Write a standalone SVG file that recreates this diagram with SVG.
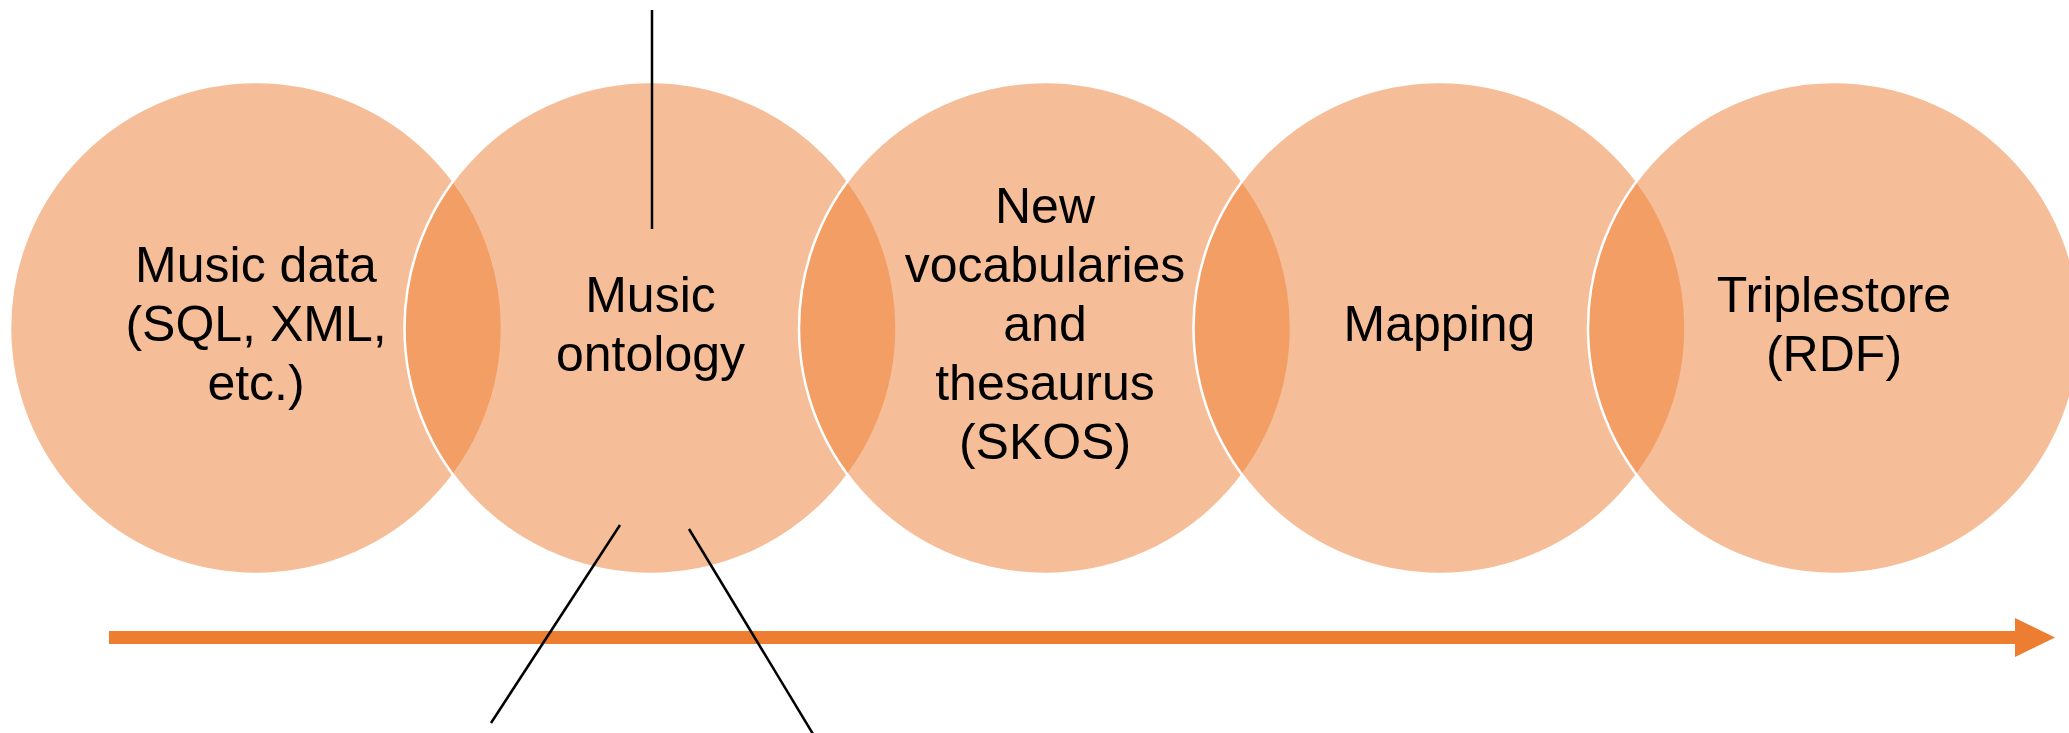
<svg xmlns="http://www.w3.org/2000/svg" width="2069" height="733" viewBox="0 0 2069 733">
  <style>
    .c { fill: #ED7D31; fill-opacity: 0.5; stroke: #FFFFFF; stroke-width: 2.5; }
    .t { font-family: "Liberation Sans", Arial, sans-serif; font-size: 50px; fill: #000000; text-anchor: middle; }
    .ln { stroke: #000000; stroke-width: 2.5; fill: none; }
    .bar { fill: #ED7D31; }
  </style>
  <rect width="2069" height="733" fill="#FFFFFF"/>
  <g id="node-music-data">
    <circle class="c" cx="256" cy="328" r="246"/>
    <text class="t" x="256" y="282">Music data</text>
    <text class="t" x="256" y="341">(SQL, XML,</text>
    <text class="t" x="256" y="400">etc.)</text>
  </g>
  <g id="node-music-ontology">
    <circle class="c" cx="650.5" cy="328" r="246"/>
    <text class="t" x="650.5" y="311.5">Music</text>
    <text class="t" x="650.5" y="370.5">ontology</text>
  </g>
  <g id="node-vocabularies">
    <circle class="c" cx="1045" cy="328" r="246"/>
    <text class="t" x="1045" y="223">New</text>
    <text class="t" x="1045" y="282">vocabularies</text>
    <text class="t" x="1045" y="341">and</text>
    <text class="t" x="1045" y="400">thesaurus</text>
    <text class="t" x="1045" y="459">(SKOS)</text>
  </g>
  <g id="node-mapping">
    <circle class="c" cx="1439.5" cy="328" r="246"/>
    <text class="t" x="1439.5" y="341">Mapping</text>
  </g>
  <g id="node-triplestore">
    <circle class="c" cx="1834" cy="328" r="246"/>
    <text class="t" x="1834" y="311.5">Triplestore</text>
    <text class="t" x="1834" y="370.5">(RDF)</text>
  </g>
  <g id="connectors">
    <rect class="bar" x="109" y="631" width="1907" height="13"/>
    <polygon class="bar" points="2015,618 2055,637.5 2015,657"/>
    <line class="ln" x1="652" y1="10" x2="652" y2="229"/>
    <line class="ln" x1="620" y1="525" x2="491" y2="723"/>
    <line class="ln" x1="689" y1="529" x2="813" y2="734"/>
  </g>
</svg>
